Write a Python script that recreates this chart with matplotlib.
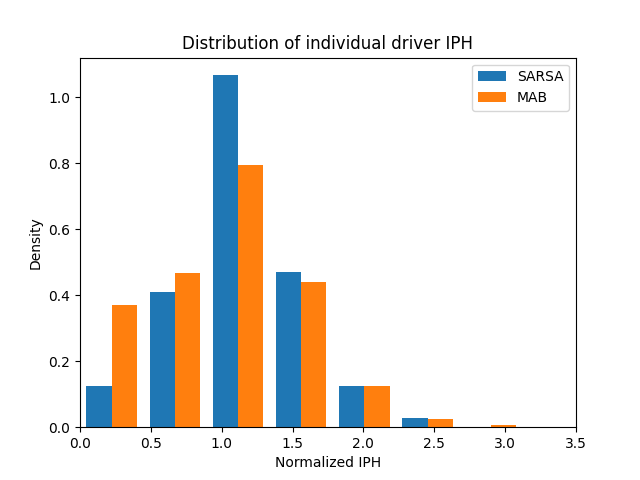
import numpy as np
import matplotlib
matplotlib.use("Agg")
import matplotlib.pyplot as plt

bin_width = 0.446
edges = np.arange(8) * bin_width
centers = (edges[:-1] + edges[1:]) / 2

sarsa = [0.124, 0.409, 1.067, 0.470, 0.124, 0.029, 0.0]
mab = [0.370, 0.467, 0.795, 0.440, 0.124, 0.026, 0.0076]

fig, ax = plt.subplots(figsize=(6.4, 4.8), dpi=100)
ax.hist([centers, centers], bins=edges, weights=[sarsa, mab],
        label=["SARSA", "MAB"])
ax.set_xlim(0, 3.5)
ax.set_title("Distribution of individual driver IPH")
ax.set_xlabel("Normalized IPH")
ax.set_ylabel("Density")
ax.legend()
fig.savefig("out.png")
